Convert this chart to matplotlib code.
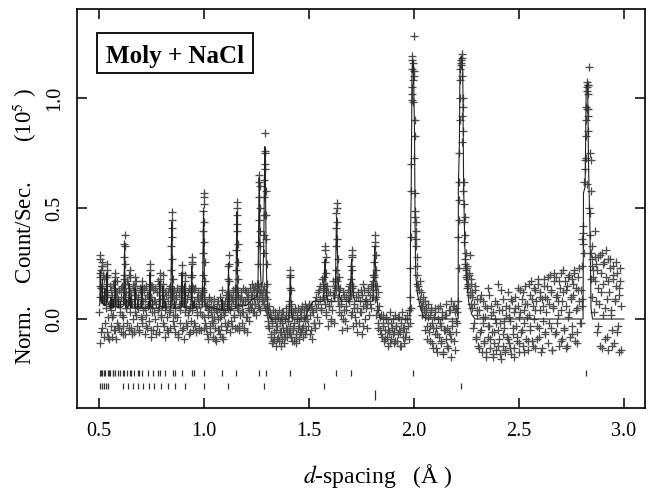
import matplotlib.pyplot as plt
import numpy as np
from matplotlib.patches import Rectangle

plt.rcParams["font.family"] = ["Liberation Serif", "DejaVu Serif"]
plt.rcParams["mathtext.fontset"] = "stix"

# observed counts (1e5 counts/s), read on d-spacing grids (start, step)
obs1_start, obs1_step = 0.500, 0.003
obs1 = [
    0.03, 0.21, -0.11, 0.14, 0.26, -0.04, 0.09, 0.18, -0.08, 0.12,
    0.05, 0.19, -0.06, 0.10, 0.01, -0.09, 0.07, 0.15, -0.03, 0.04,
    -0.08, 0.11, 0.02, -0.05, 0.14, 0.06, -0.09, 0.08, 0.17, -0.02,
    0.09, -0.04, 0.13, 0.03, -0.06, 0.10, 0.15, 0.01, -0.03, 0.08,
    0.18, -0.07, 0.05, 0.12, -0.02, 0.16, 0.08, -0.05, 0.20, 0.03,
    0.11, -0.04, 0.07, 0.15, 0.00, -0.06, 0.13, 0.09, 0.02, 0.17,
    -0.03, 0.10, 0.05, -0.05, 0.14, 0.07, 0.01, 0.12, -0.02, 0.08,
    0.04, 0.13, -0.07, 0.09, 0.02, 0.15, -0.04, 0.06, 0.11, -0.01,
    0.16, 0.05, -0.08, 0.10, 0.03, 0.13, -0.05, 0.08, 0.14, 0.00,
    0.07, -0.03, 0.12, 0.17, 0.04, -0.06, 0.09, 0.14, 0.02, 0.11,
    0.06, 0.13, -0.02, 0.09, -0.08, 0.04, 0.11, 0.01, -0.05, 0.08,
    0.12, 0.03, 0.15, -0.04, 0.07, 0.10, 0.14, 0.02, -0.03, 0.09,
    0.05, -0.06, 0.11, 0.01, 0.14, -0.08, 0.07, 0.12, -0.02, 0.04,
    0.10, 0.15, -0.05, 0.08, 0.13, -0.09, 0.03, 0.11, 0.06, -0.03,
    0.09, 0.02, 0.14, -0.07, 0.05, 0.12, -0.01, 0.15, 0.04, -0.05,
    0.08, 0.13, -0.03, 0.06, -0.06, 0.10, 0.02, 0.12, -0.04, 0.07,
    0.03, 0.11, -0.05, 0.08, 0.14, 0.12, 0.01, 0.09, -0.02, 0.06,
    -0.04, 0.07, 0.02, -0.09, 0.05, 0.10, -0.06, 0.03, 0.08, -0.01,
    0.06, -0.08, 0.01, 0.09, -0.04, 0.04, -0.10, 0.07, 0.00, -0.05,
    0.05, -0.07, 0.10, 0.02, -0.03, 0.08, -0.09, 0.04, 0.06, -0.02,
    0.03, 0.11, -0.05, 0.07, 0.12, -0.02, 0.09, 0.04, -0.06, 0.10,
    0.06, -0.03, 0.12, 0.08, 0.01, 0.14, -0.04, 0.10, 0.05, 0.13,
    0.11, 0.04, -0.05, 0.09, 0.02, 0.12, -0.02, 0.07, 0.14, 0.03,
    -0.04, 0.08, 0.13, 0.01, -0.06, 0.10, 0.05, 0.12, -0.01, 0.07,
    0.14, 0.05, 0.11, 0.16, 0.03, 0.09, 0.13, 0.07, 0.15, 0.02,
    0.10, 0.16, 0.06, 0.13, 0.09, 0.12, 0.04, 0.15, 0.11, 0.08,
    0.13, 0.07, 0.15, 0.10, 0.05, 0.12, 0.02, 0.09, -0.01, 0.06,
    -0.04, 0.03, -0.08, 0.01, -0.11, -0.02, 0.04, -0.06, -0.09, 0.00,
    -0.05, -0.12, 0.02, -0.03, -0.08, 0.04, -0.10, -0.01, -0.06, 0.01,
    -0.09, -0.02, 0.03, -0.07, -0.11, 0.00, -0.04, 0.05, -0.08, -0.01,
    0.02, -0.06, 0.06, -0.03, 0.04, -0.08, 0.01, -0.05, 0.03, -0.10,
    -0.02, 0.04, -0.07, -0.11, 0.02, -0.04, 0.05, -0.09, -0.01, 0.03,
    -0.06, 0.01, 0.06, -0.03, -0.08, 0.04, -0.01, 0.07, -0.05, 0.02,
]

obs1b_start, obs1b_step = 0.5015, 0.006
obs1b = [
    0.15, -0.06, 0.24, 0.08, -0.02, 0.19, 0.11, -0.08, 0.06, 0.13,
    0.01, 0.16, -0.05, 0.09, 0.12, -0.03, 0.07, 0.14, 0.02, -0.07,
    0.10, 0.05, 0.17, -0.04, 0.12, 0.08, -0.07, 0.15, 0.03, 0.11,
    0.06, -0.06, 0.13, 0.09, 0.00, 0.14, 0.05, -0.03, 0.11, 0.07,
    0.10, -0.05, 0.15, 0.03, 0.08, -0.07, 0.12, 0.05, 0.16, 0.01,
    0.09, -0.03, 0.12, 0.06, -0.06, 0.14, 0.04, 0.10, -0.01, 0.13,
    0.02, 0.09, -0.07, 0.12, 0.06, 0.15, -0.04, 0.08, 0.11, -0.02,
    0.12, 0.04, -0.06, 0.10, 0.07, -0.02, 0.14, 0.03, 0.09, -0.05,
    0.10, 0.02, 0.13, -0.04, 0.06, -0.07, 0.04, 0.09, -0.03, 0.01,
    -0.02, 0.05, -0.09, 0.03, 0.08, -0.05, 0.01, -0.08, 0.06, 0.02,
    0.08, -0.03, 0.05, 0.11, -0.01, 0.09, 0.13, 0.02, 0.07, -0.04,
    0.06, -0.03, 0.10, 0.03, 0.08, -0.05, 0.12, 0.01, 0.09, 0.04,
    0.11, 0.07, 0.14, 0.03, 0.12, 0.09, 0.16, 0.05, 0.13, 0.10,
    0.08, 0.12, 0.04, 0.06, -0.03, 0.02, -0.07, -0.01, -0.10, 0.03,
    -0.03, -0.09, 0.01, -0.06, -0.12, 0.03, -0.04, -0.08, 0.02, -0.05,
    -0.01, -0.07, 0.03, -0.10, -0.04, 0.05, -0.08, 0.00, -0.03, -0.06,
    0.04, -0.04, 0.01, -0.07, 0.05,
]

obs2_start, obs2_step = 1.490, 0.004
obs2 = [
    0.05, -0.03, 0.07, -0.07, 0.02, 0.06, -0.09, 0.03, -0.02, 0.08,
    -0.04, 0.05, 0.01, 0.12, -0.02, 0.09, 0.15, 0.04, 0.18, 0.10,
    0.14, 0.07, 0.11, 0.03, 0.09, -0.03, 0.06, 0.12, 0.00, 0.08,
    0.04, 0.11, -0.02, 0.15, 0.18, 0.13, 0.17, 0.10, 0.06, 0.14,
    0.02, 0.09, -0.05, 0.12, 0.04, -0.01, 0.10, 0.06, -0.04, 0.13,
    0.08, 0.16, 0.11, 0.03, 0.14, -0.03, 0.07, 0.01, 0.10, -0.06,
    0.05, 0.12, -0.02, 0.08, 0.03, 0.11, -0.07, 0.06, 0.13, 0.00,
    0.09, -0.04, 0.07, 0.14, 0.02, 0.11, 0.05, 0.16, 0.10, 0.17,
    0.20, 0.15, 0.10, 0.04, 0.12, -0.02, 0.06, -0.05, 0.02, -0.08,
    -0.03, 0.02, -0.10, -0.05, 0.01, -0.08, -0.12, -0.02, -0.06, 0.03,
    -0.09, -0.04, 0.00, -0.11, -0.06, 0.02, -0.03, -0.10, -0.07, 0.01,
    -0.05, -0.12, -0.02, 0.03, -0.08, -0.04, -0.11, 0.00, -0.06, 0.02,
    -0.03, -0.09, 0.04, -0.02, 0.05,
]

obs2b_start, obs2b_step = 1.492, 0.008
obs2b = [
    0.00, 0.06, -0.05, 0.04, -0.02, 0.10, 0.07, 0.13, 0.05, 0.16,
    0.09, 0.02, 0.12, 0.06, -0.01, 0.17, 0.11, 0.14, 0.08, 0.03,
    0.07, 0.00, 0.11, 0.04, 0.09, 0.15, 0.02, 0.12, 0.05, -0.02,
    0.10, 0.03, 0.13, -0.03, 0.08, 0.05, 0.12, 0.07, 0.15, 0.20,
    0.09, 0.02, -0.04, 0.01, -0.07, -0.02, -0.09, 0.00, -0.05, -0.11,
    -0.02, -0.07, -0.10, -0.03, 0.01, -0.06, -0.12, -0.04, -0.08, 0.00,
]

obs3_start, obs3_step = 1.990, 0.004
obs3 = [
    1.05, 1.16, 1.10, 0.90, 0.46, 0.33, 0.20, 0.15, 0.13, 0.17,
    0.09, 0.12, 0.06, 0.10, 0.04, 0.08, 0.01, 0.05, -0.03, 0.07,
    -0.06, 0.02, -0.10, 0.04, -0.02, -0.13, 0.01, -0.07, 0.05, -0.04,
    -0.15, 0.00, -0.08, 0.06, -0.11, -0.03, 0.03, -0.16, -0.05, 0.02,
    -0.09, 0.07, -0.04, -0.13, 0.04, -0.07, 0.08, -0.17, -0.01, 0.06,
    -0.10, 0.03, -0.06, 0.05, -0.02, 0.08, 0.62, 1.00, 1.15, 1.18,
    0.92, 0.58, 0.44, 0.27, 0.22, 0.18, 0.24, 0.15, 0.20, 0.12,
    0.16, 0.05, 0.10, -0.04, 0.07, 0.13, -0.09, 0.02, 0.09, -0.12,
    0.04, -0.06, 0.11, -0.15, -0.02, 0.08, -0.10, 0.01, -0.17, 0.05,
    -0.08, 0.14, -0.03, -0.13, 0.06, -0.06, -0.16, 0.03, -0.11, 0.00,
    -0.14, 0.07, -0.05, 0.16, -0.09, -0.02, -0.18, 0.04, -0.12, 0.09,
    -0.04, -0.15, 0.02, -0.08, 0.12, -0.11, 0.05, -0.01, -0.16, 0.08,
    -0.07, 0.03, -0.13, 0.10, -0.03, -0.10, 0.06, -0.15, 0.01, 0.13,
    -0.06, 0.09, -0.12, 0.04, -0.02, 0.15, -0.09, 0.07, -0.14, 0.02,
    0.11, -0.05, 0.17, -0.10, 0.06, 0.00, 0.13, -0.13, 0.08, -0.03,
    0.16, -0.08, 0.04, 0.12, -0.15, 0.09, -0.01, 0.18, -0.06, 0.10,
    0.03, 0.15, -0.11, 0.07, 0.20, -0.04, 0.12, -0.14, 0.05, 0.17,
    -0.07, 0.10, 0.19, -0.02, 0.08, -0.12, 0.14, 0.04, 0.21, -0.09,
    0.12, -0.05, 0.17, 0.06, -0.13, 0.15, 0.01, 0.20, -0.08, 0.09,
    0.18, -0.03, 0.11, 0.22, -0.10, 0.14, 0.05, -0.06, 0.19, 0.08,
    -0.02, 0.13, 0.06, 0.24, 0.42, 0.62, 0.68, 0.90, 1.03, 1.07,
    0.85, 0.50, 0.38, 0.18, 0.27, 0.10, 0.22, 0.03, 0.17, 0.25,
    -0.06, 0.14, 0.28, 0.07, -0.12, 0.21, 0.30, 0.02, 0.16, 0.26,
    -0.09, 0.19, 0.09, 0.27, -0.14, 0.12, 0.23, 0.04, -0.05, 0.18,
    0.24, -0.11, 0.08, 0.15, 0.21, -0.03, 0.11, -0.15, 0.17, 0.06,
]

obs3b_start, obs3b_step = 2.032, 0.006
obs3b = [
    0.06, 0.02, 0.08, -0.05, 0.03, -0.09, 0.01, -0.03, 0.05, -0.11,
    -0.04, 0.03, -0.13, -0.07, 0.05, -0.02, -0.10, 0.01, -0.15, -0.05,
    0.02, -0.12, -0.06, 0.04, -0.09, -0.03, 0.06, -0.14, -0.01, 0.03,
    0.45, 1.08, 1.16, 0.80, 0.35, 0.25, 0.19, 0.14, 0.21, 0.11,
    0.07, 0.12, -0.02, 0.15, -0.08, 0.04, -0.13, 0.09, -0.05, 0.01,
    -0.11, 0.06, -0.15, -0.03, 0.11, -0.09, 0.02, -0.17, -0.06, 0.08,
    -0.02, -0.12, 0.04, -0.16, 0.13, -0.07, -0.01, -0.14, 0.06, -0.09,
    0.01, -0.13, 0.09, -0.04, -0.17, 0.05, -0.08, 0.14, -0.11, 0.03,
    -0.05, 0.12, -0.15, 0.07, 0.01, -0.10, 0.16, -0.03, 0.09, -0.12,
    0.14, 0.04, -0.09, 0.18, -0.04, 0.10, -0.13, 0.06, 0.15, -0.07,
    0.09, 0.19, -0.02, 0.13, -0.14, 0.06, 0.21, -0.06, 0.11, 0.02,
    0.17, -0.10, 0.08, 0.22, -0.04, 0.13, -0.12, 0.19, 0.03, 0.10,
    -0.07, 0.16, 0.21, 0.04, -0.11, 0.13, 0.23, -0.02, 0.09, 0.34,
    0.72, 0.96, 1.05, 0.92, 0.48, 0.30, 0.24, 0.19, 0.28, 0.08,
    0.22, -0.03, 0.29, 0.12, -0.13, 0.25, 0.05, 0.31, -0.08, 0.17,
    0.27, 0.02, -0.12, 0.20, 0.09, 0.26, -0.06, 0.14, 0.23, -0.14,
]

# extra observed points stacked on the Bragg peaks (d, counts)
peaks_low = [
    (0.503, 0.10), (0.504, 0.19), (0.505, 0.27), (0.506, 0.29), (0.507, 0.22), (0.508, 0.14),
    (0.514, 0.15), (0.515, 0.24), (0.516, 0.20),
    (0.535, 0.12), (0.536, 0.20), (0.537, 0.25), (0.538, 0.22), (0.539, 0.16),
    (0.574, 0.10), (0.575, 0.17), (0.576, 0.21), (0.577, 0.19), (0.578, 0.12),
    (0.617, 0.12), (0.618, 0.20), (0.619, 0.28), (0.620, 0.34), (0.621, 0.38),
    (0.622, 0.33), (0.623, 0.25), (0.624, 0.16),
    (0.643, 0.14), (0.645, 0.22), (0.646, 0.19), (0.648, 0.12),
    (0.669, 0.13), (0.671, 0.19), (0.672, 0.15),
    (0.702, 0.12), (0.703, 0.17), (0.704, 0.15),
    (0.741, 0.13), (0.742, 0.20), (0.743, 0.25), (0.744, 0.22), (0.745, 0.15),
    (0.788, 0.15), (0.790, 0.21), (0.791, 0.18), (0.803, 0.20), (0.805, 0.16),
    (0.842, 0.12), (0.843, 0.22), (0.844, 0.33), (0.845, 0.41), (0.846, 0.485),
    (0.847, 0.45), (0.848, 0.37), (0.849, 0.27), (0.850, 0.18), (0.852, 0.12),
    (0.892, 0.14), (0.893, 0.20), (0.894, 0.245), (0.895, 0.21), (0.897, 0.13),
    (0.907, 0.17), (0.908, 0.20),
    (0.938, 0.13), (0.939, 0.19), (0.940, 0.25), (0.941, 0.28), (0.942, 0.26),
    (0.943, 0.20), (0.945, 0.14),
    (0.992, 0.12), (0.993, 0.20), (0.994, 0.30), (0.995, 0.40), (0.996, 0.49),
    (0.997, 0.55), (0.998, 0.57), (0.999, 0.52), (1.000, 0.44), (1.001, 0.35),
    (1.002, 0.26), (1.004, 0.17),
]
peaks_mid = [
    (1.085, 0.13),
    (1.113, 0.12), (1.114, 0.18), (1.115, 0.24), (1.116, 0.29), (1.117, 0.25), (1.118, 0.17),
    (1.151, 0.14), (1.152, 0.22), (1.153, 0.31), (1.154, 0.40), (1.155, 0.47), (1.156, 0.53),
    (1.157, 0.50), (1.158, 0.43), (1.159, 0.34), (1.160, 0.26), (1.162, 0.18),
    (1.257, 0.16), (1.258, 0.25), (1.259, 0.35), (1.260, 0.45), (1.261, 0.55), (1.262, 0.62),
    (1.263, 0.65), (1.264, 0.60), (1.265, 0.50), (1.266, 0.40), (1.267, 0.33),
    (1.283, 0.30), (1.284, 0.38), (1.285, 0.47), (1.286, 0.55), (1.287, 0.63), (1.288, 0.70),
    (1.289, 0.76), (1.290, 0.84), (1.291, 0.75), (1.292, 0.68), (1.293, 0.58), (1.294, 0.47),
    (1.296, 0.36), (1.298, 0.25), (1.301, 0.16),
    (1.406, 0.08), (1.408, 0.14), (1.409, 0.19), (1.410, 0.22), (1.411, 0.20), (1.413, 0.13),
    (1.416, 0.07),
    (1.570, 0.13), (1.572, 0.19), (1.574, 0.26), (1.575, 0.31), (1.576, 0.33), (1.578, 0.28),
    (1.580, 0.21), (1.583, 0.15),
    (1.624, 0.15), (1.626, 0.22), (1.628, 0.33), (1.629, 0.41), (1.630, 0.48), (1.631, 0.525),
    (1.632, 0.50), (1.633, 0.44), (1.635, 0.36), (1.637, 0.27), (1.640, 0.19), (1.644, 0.13),
    (1.696, 0.12), (1.698, 0.18), (1.700, 0.24), (1.702, 0.29), (1.703, 0.31), (1.704, 0.28),
    (1.706, 0.22), (1.709, 0.15),
    (1.757, 0.16),
    (1.806, 0.13), (1.808, 0.19), (1.810, 0.26), (1.812, 0.33), (1.813, 0.38), (1.815, 0.35),
    (1.817, 0.29), (1.819, 0.22), (1.822, 0.15),
]
peaks_high = [
    (1.981, 0.10), (1.982, 0.23), (1.983, 0.37), (1.984, 0.58), (1.986, 0.70), (1.988, 0.99),
    (1.989, 1.02), (1.990, 1.13), (1.991, 1.19), (1.992, 1.17), (1.993, 1.08), (1.995, 0.98),
    (2.001, 1.28), (1.998, 1.12), (1.999, 0.73), (2.003, 0.83), (2.005, 0.57), (2.006, 0.49),
    (2.007, 0.40), (2.008, 0.44), (2.010, 0.36), (2.012, 0.28), (2.014, 0.24), (2.016, 0.16),
    (2.211, 0.37), (2.212, 0.23), (2.214, 0.75), (2.216, 0.54), (2.218, 0.90), (2.221, 1.13),
    (2.224, 1.17), (2.227, 1.20), (2.229, 1.10), (2.231, 0.85), (2.233, 1.00), (2.235, 0.96),
    (2.237, 0.62), (2.239, 0.52), (2.241, 0.46), (2.243, 0.38), (2.245, 0.30), (2.248, 0.23),
    (2.252, 0.20), (2.258, 0.16), (2.265, 0.29), (2.270, 0.18),
    (2.801, 0.36), (2.806, 0.39), (2.811, 0.30), (2.817, 0.83), (2.817, 0.73), (2.822, 0.95),
    (2.822, 0.61), (2.827, 1.06), (2.827, 1.02), (2.830, 1.06), (2.833, 1.14), (2.830, 0.95),
    (2.838, 0.75), (2.843, 0.72), (2.843, 0.58), (2.849, 0.33), (2.862, 0.40),
]

# calculated profile, vertices (d, counts)
calc = [
    (0.500, 0.06), (0.503, 0.07), (0.505, 0.22), (0.507, 0.10), (0.512, 0.07), (0.515, 0.18),
    (0.517, 0.07), (0.524, 0.06), (0.526, 0.14), (0.528, 0.06), (0.535, 0.07), (0.537, 0.21),
    (0.539, 0.08), (0.554, 0.05), (0.556, 0.10), (0.558, 0.05), (0.564, 0.05), (0.566, 0.09),
    (0.568, 0.05), (0.574, 0.06), (0.576, 0.18), (0.578, 0.06), (0.589, 0.05), (0.591, 0.09),
    (0.593, 0.05), (0.599, 0.05), (0.601, 0.08), (0.603, 0.05), (0.615, 0.06), (0.617, 0.12),
    (0.619, 0.20), (0.621, 0.34), (0.623, 0.12), (0.625, 0.06), (0.629, 0.05), (0.631, 0.09),
    (0.633, 0.05), (0.641, 0.06), (0.643, 0.16), (0.645, 0.07), (0.649, 0.05), (0.651, 0.10),
    (0.653, 0.05), (0.669, 0.05), (0.671, 0.14), (0.673, 0.05), (0.682, 0.05), (0.684, 0.09),
    (0.686, 0.05), (0.701, 0.05), (0.703, 0.15), (0.705, 0.05), (0.732, 0.05), (0.734, 0.08),
    (0.736, 0.05), (0.740, 0.05), (0.742, 0.21), (0.744, 0.06), (0.752, 0.05), (0.754, 0.09),
    (0.756, 0.05), (0.786, 0.05), (0.788, 0.17), (0.790, 0.06), (0.801, 0.05), (0.803, 0.15),
    (0.805, 0.05), (0.812, 0.05), (0.814, 0.08), (0.816, 0.05), (0.840, 0.05), (0.842, 0.15),
    (0.844, 0.32), (0.846, 0.44), (0.848, 0.25), (0.850, 0.10), (0.852, 0.05), (0.858, 0.05),
    (0.860, 0.08), (0.862, 0.05), (0.890, 0.05), (0.892, 0.12), (0.894, 0.21), (0.896, 0.06),
    (0.906, 0.05), (0.908, 0.16), (0.910, 0.05), (0.937, 0.05), (0.939, 0.15), (0.941, 0.24),
    (0.943, 0.10), (0.945, 0.05), (0.951, 0.05), (0.953, 0.08), (0.955, 0.05), (0.990, 0.05),
    (0.993, 0.18), (0.995, 0.36), (0.997, 0.49), (0.999, 0.40), (1.001, 0.18), (1.004, 0.06),
    (1.083, 0.04), (1.085, 0.09), (1.087, 0.04), (1.112, 0.04), (1.114, 0.15), (1.116, 0.25),
    (1.118, 0.10), (1.120, 0.04), (1.150, 0.05), (1.152, 0.18), (1.154, 0.36), (1.156, 0.485),
    (1.158, 0.35), (1.160, 0.15), (1.163, 0.06), (1.200, 0.06), (1.230, 0.09), (1.250, 0.10),
    (1.256, 0.12), (1.258, 0.30), (1.260, 0.52), (1.262, 0.64), (1.264, 0.55), (1.266, 0.32),
    (1.268, 0.22), (1.272, 0.15), (1.280, 0.17), (1.284, 0.35), (1.287, 0.62), (1.289, 0.78),
    (1.291, 0.74), (1.293, 0.50), (1.296, 0.25), (1.300, 0.10), (1.306, 0.03), (1.315, 0.00),
    (1.404, 0.00), (1.407, 0.08), (1.409, 0.17), (1.411, 0.20), (1.413, 0.10), (1.416, 0.03),
    (1.420, 0.00), (1.480, 0.00), (1.500, 0.05), (1.520, 0.08), (1.566, 0.08), (1.570, 0.13),
    (1.574, 0.25), (1.576, 0.27), (1.579, 0.18), (1.584, 0.10), (1.590, 0.08), (1.622, 0.08),
    (1.626, 0.20), (1.629, 0.38), (1.631, 0.46), (1.634, 0.35), (1.638, 0.18), (1.645, 0.10),
    (1.655, 0.08), (1.694, 0.08), (1.698, 0.15), (1.701, 0.25), (1.703, 0.27), (1.706, 0.18),
    (1.711, 0.10), (1.720, 0.08), (1.803, 0.08), (1.808, 0.17), (1.811, 0.28), (1.813, 0.33),
    (1.816, 0.25), (1.820, 0.12), (1.828, 0.05), (1.838, 0.00), (1.980, 0.00), (1.982, 0.06),
    (1.983, 0.37), (1.986, 0.55), (1.990, 1.10), (1.993, 1.17), (1.997, 1.15), (2.002, 0.85),
    (2.005, 0.40), (2.008, 0.20), (2.015, 0.12), (2.030, 0.05), (2.045, 0.01), (2.060, 0.00),
    (2.210, 0.00), (2.211, 0.60), (2.216, 0.80), (2.219, 1.18), (2.226, 1.19), (2.232, 1.12),
    (2.236, 0.60), (2.242, 0.32), (2.250, 0.18), (2.260, 0.08), (2.275, 0.02), (2.290, 0.00),
    (2.805, 0.00), (2.807, 0.57), (2.815, 0.60), (2.820, 1.05), (2.827, 1.07), (2.831, 0.70),
    (2.838, 0.40), (2.843, 0.05), (2.850, 0.00), (3.000, 0.00),
]

# reflection markers (d-spacing)
nacl_d = [0.506, 0.509, 0.515, 0.524, 0.526, 0.543, 0.545, 0.553, 0.564, 0.567,
          0.576, 0.591, 0.601, 0.615, 0.619, 0.631, 0.647, 0.651, 0.665, 0.684,
          0.689, 0.705, 0.734, 0.754, 0.782, 0.790, 0.814, 0.850, 0.860, 0.892,
          0.940, 0.953, 0.997, 1.085, 1.151, 1.261, 1.294, 1.410, 1.628, 1.701,
          1.994, 2.820]
mo_d = [0.505, 0.515, 0.525, 0.534, 0.543, 0.612, 0.638, 0.660, 0.683, 0.707,
        0.735, 0.763, 0.795, 0.826, 0.862, 0.908, 0.997, 1.115, 1.284, 1.570,
        2.225]
third_d = [1.814]


def grid(start, step, vals):
    return start + step * np.arange(len(vals)), np.asarray(vals)


segs = [grid(obs1_start, obs1_step, obs1), grid(obs1b_start, obs1b_step, obs1b),
        grid(obs2_start, obs2_step, obs2), grid(obs2b_start, obs2b_step, obs2b),
        grid(obs3_start, obs3_step, obs3), grid(obs3b_start, obs3b_step, obs3b)]
d_obs = np.concatenate([s[0] for s in segs])
y_obs = np.concatenate([s[1] for s in segs])
pk = np.array(peaks_low + peaks_mid + peaks_high)
cc = np.array(calc)

fig = plt.figure(figsize=(6.54, 4.91), dpi=100)
ax = fig.add_axes([0.1177, 0.1684, 0.8685, 0.8126])

grey = "#4d4d4d"
ax.plot(d_obs, y_obs, "+", color=grey, ms=6, mew=0.95)
ax.plot(pk[:, 0], pk[:, 1], "+", color=grey, ms=6, mew=0.95)
ax.plot(cc[:, 0], cc[:, 1], "-", color="#222222", lw=0.8)

tick_kw = dict(ls="none", marker="|", mew=0.9, color="#333333")
ax.plot(nacl_d, np.full(len(nacl_d), -0.244), ms=4.5, **tick_kw)
ax.plot(mo_d, np.full(len(mo_d), -0.303), ms=4.5, **tick_kw)
ax.plot(third_d, np.full(len(third_d), -0.344), ms=6.5, **tick_kw)

ax.set_xlim(0.394, 3.1)
ax.set_ylim(-0.404, 1.401)
ax.set_xticks([0.5, 1.0, 1.5, 2.0, 2.5, 3.0])
ax.set_yticks([0.0, 0.5, 1.0])
ax.set_xticklabels(["0.5", "1.0", "1.5", "2.0", "2.5", "3.0"])
ax.set_yticklabels(["0.0", "0.5", "1.0"], rotation=90, va="center")
ax.tick_params(direction="in", length=7.5, width=1.1, top=True, right=True,
               labelsize=14.5)
ax.tick_params(axis="x", pad=10)
ax.tick_params(axis="y", pad=9)
for s in ax.spines.values():
    s.set_linewidth(1.2)

fig.text(25 / 654, 1 - 226 / 491, "Norm.    Count/Sec.       (10$^{5}$ )",
         rotation=90, ha="center", va="center", fontsize=16.5)
fig.text(378 / 654, 1 - 483 / 491, "$d$-spacing   (Å )", ha="center",
         va="baseline", fontsize=17)

fig.patches.append(Rectangle((97 / 654, 1 - 73 / 491), 156 / 654, 40 / 491,
                             transform=fig.transFigure, fill=False,
                             lw=1.3, ec="black"))
fig.text(175 / 654, 1 - 63 / 491, "Moly + NaCl", ha="center", va="baseline",
         fontsize=18, fontweight="bold")

fig.savefig("out.png", dpi=100)
